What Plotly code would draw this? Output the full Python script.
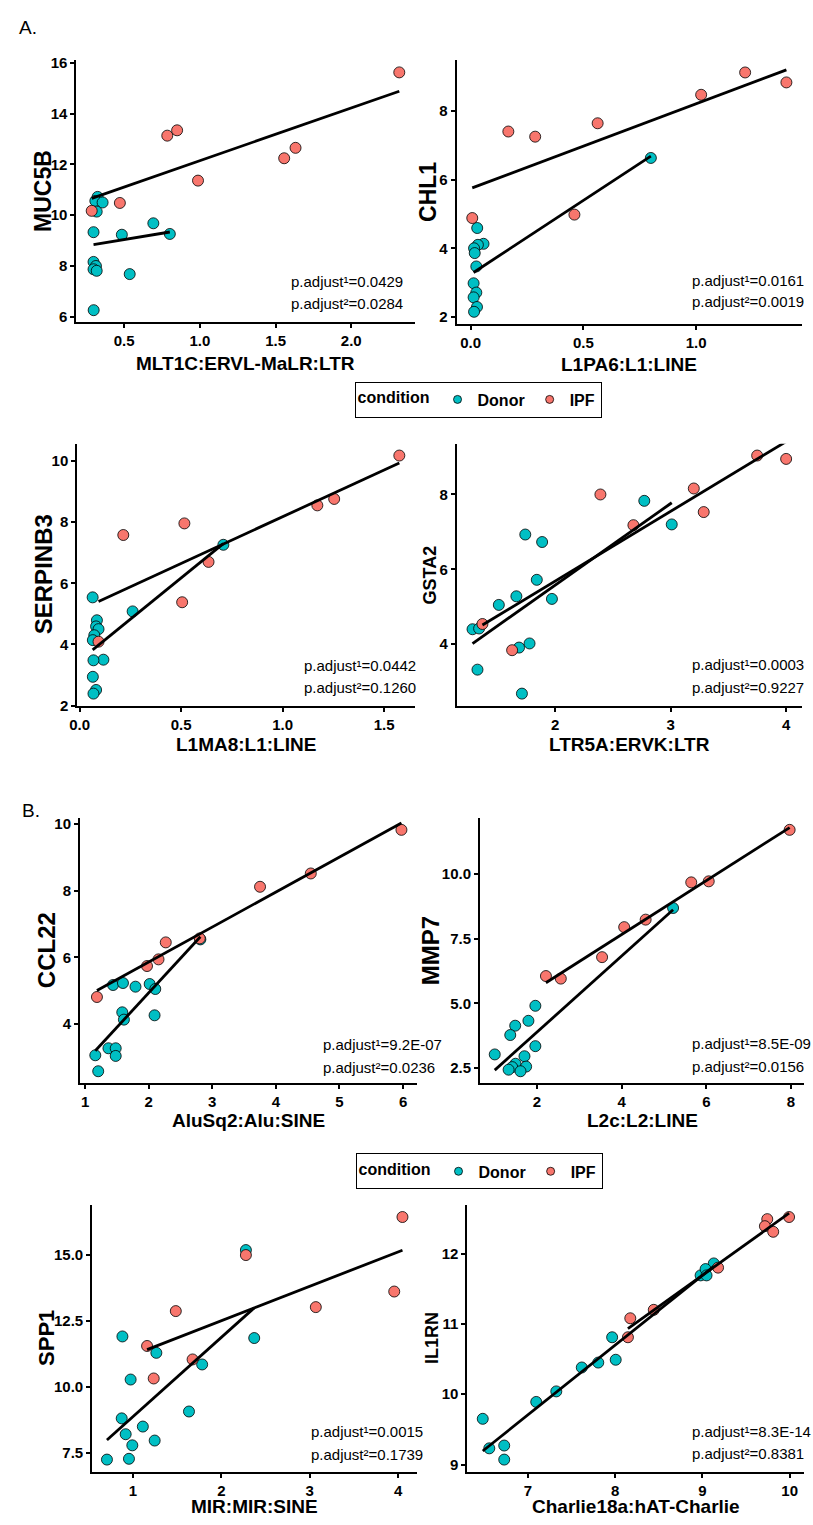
import numpy as np
import plotly.graph_objects as go

W, H = 813, 1525
SANS = "Liberation Sans, Arial, sans-serif"
DONOR_COL = "#00BFC4"
IPF_COL = "#F8766D"

# ---------------- data ----------------
muc5b_donor_x = [0.325, 0.31, 0.358, 0.319, 0.298, 0.693, 0.485, 0.802, 0.298, 0.314, 0.298, 0.319, 0.537, 0.299]
muc5b_donor_y = [10.72, 10.56, 10.50, 10.14, 9.33, 9.68, 9.23, 9.26, 8.16, 8.00, 7.87, 7.81, 7.68, 6.26]
muc5b_ipf_x = [2.317, 0.785, 0.85, 1.557, 1.632, 0.988, 0.472, 0.286]
muc5b_ipf_y = [15.62, 13.13, 13.34, 12.24, 12.65, 11.36, 10.48, 10.17]

chl1_donor_x = [0.799, 0.029, 0.057, 0.032, 0.015, 0.018, 0.025, 0.013, 0.025, 0.013, 0.028, 0.015]
chl1_donor_y = [6.63, 4.59, 4.13, 4.10, 4.00, 3.86, 3.47, 2.98, 2.71, 2.57, 2.29, 2.15]
chl1_ipf_x = [1.217, 1.40, 1.022, 0.563, 0.167, 0.286, 0.46, 0.007]
chl1_ipf_y = [9.12, 8.83, 8.47, 7.64, 7.40, 7.25, 4.98, 4.88]

serpinb3_donor_x = [0.708, 0.261, 0.064, 0.085, 0.081, 0.093, 0.072, 0.065, 0.117, 0.068, 0.065, 0.081, 0.068]
serpinb3_donor_y = [7.26, 5.08, 5.54, 4.79, 4.59, 4.50, 4.30, 4.14, 3.50, 3.48, 2.94, 2.51, 2.39]
serpinb3_ipf_x = [1.575, 1.254, 1.171, 0.516, 0.215, 0.635, 0.505, 0.093]
serpinb3_ipf_y = [10.18, 8.76, 8.55, 7.96, 7.58, 6.70, 5.38, 4.09]

gsta2_donor_x = [2.771, 3.009, 1.74, 1.886, 1.84, 1.663, 1.971, 1.511, 1.283, 1.34, 1.777, 1.686, 1.326, 1.711]
gsta2_donor_y = [7.83, 7.20, 6.93, 6.73, 5.72, 5.28, 5.21, 5.05, 4.40, 4.42, 4.02, 3.91, 3.32, 2.68]
gsta2_ipf_x = [3.749, 4.0, 3.2, 3.286, 2.391, 2.677, 1.369, 1.626]
gsta2_ipf_y = [9.04, 8.95, 8.16, 7.53, 8.00, 7.18, 4.54, 3.84]

ccl22_donor_x = [2.813, 1.44, 1.596, 1.793, 2.016, 2.104, 1.585, 1.611, 2.093, 1.368, 1.482, 1.482, 1.161, 1.207]
ccl22_donor_y = [6.54, 5.17, 5.23, 5.12, 5.20, 5.05, 4.35, 4.13, 4.26, 3.27, 3.27, 3.04, 3.06, 2.58]
ccl22_ipf_x = [5.974, 4.549, 3.751, 2.803, 2.269, 2.155, 1.974, 1.187]
ccl22_ipf_y = [9.83, 8.52, 8.12, 6.57, 6.45, 5.94, 5.74, 4.81]

mmp7_donor_x = [5.214, 1.961, 1.797, 1.485, 1.368, 1.961, 1.002, 1.704, 1.493, 1.415, 1.743, 1.329, 1.61]
mmp7_donor_y = [8.69, 4.91, 4.33, 4.14, 3.78, 3.35, 3.03, 2.96, 2.67, 2.54, 2.56, 2.44, 2.38]
mmp7_ipf_x = [7.967, 5.643, 6.056, 4.566, 4.059, 3.537, 2.211, 2.562]
mmp7_ipf_y = [11.71, 9.68, 9.72, 8.24, 7.95, 6.79, 6.06, 5.96]

spp1_donor_x = [2.278, 0.881, 2.372, 1.265, 1.783, 0.974, 1.634, 0.873, 1.112, 0.918, 1.246, 0.993, 0.955, 0.706]
spp1_donor_y = [15.18, 11.91, 11.85, 11.29, 10.85, 10.28, 9.07, 8.81, 8.50, 8.21, 7.97, 7.79, 7.28, 7.25]
spp1_ipf_x = [4.049, 2.278, 3.956, 3.069, 1.485, 1.16, 1.675, 1.235]
spp1_ipf_y = [16.43, 14.99, 13.61, 13.02, 12.87, 11.55, 11.04, 10.32]

il1rn_donor_x = [9.13, 8.979, 9.036, 9.047, 7.965, 8.006, 7.806, 7.617, 7.325, 7.095, 6.482, 6.557, 6.728, 6.728]
il1rn_donor_y = [11.86, 11.69, 11.78, 11.69, 10.81, 10.49, 10.45, 10.38, 10.04, 9.89, 9.65, 9.23, 9.27, 9.07]
il1rn_ipf_x = [9.993, 9.743, 9.716, 9.811, 9.179, 8.442, 8.173, 8.146]
il1rn_ipf_y = [12.52, 12.49, 12.39, 12.31, 11.80, 11.20, 11.08, 10.81]

x_titles = ["MLT1C:ERVL-MaLR:LTR", "L1PA6:L1:LINE", "L1MA8:L1:LINE", "LTR5A:ERVK:LTR",
            "AluSq2:Alu:SINE", "L2c:L2:LINE", "MIR:MIR:SINE", "Charlie18a:hAT-Charlie"]
y_titles = ["MUC5B", "CHL1", "SERPINB3", "GSTA2", "CCL22", "MMP7", "SPP1", "IL1RN"]
p_adjust_1 = ["0.0429", "0.0161", "0.0442", "0.0003", "9.2E-07", "8.5E-09", "0.0015", "8.3E-14"]
p_adjust_2 = ["0.0284", "0.0019", "0.1260", "0.9227", "0.0236", "0.0156", "0.1739", "0.8381"]

x_ticks = [[0.5, 1.0, 1.5, 2.0], [0.0, 0.5, 1.0], [0.0, 0.5, 1.0, 1.5], [2, 3, 4],
           [1, 2, 3, 4, 5, 6], [2, 4, 6, 8], [1, 2, 3, 4], [7, 8, 9, 10]]
x_tick_labels = [["0.5", "1.0", "1.5", "2.0"], ["0.0", "0.5", "1.0"], ["0.0", "0.5", "1.0", "1.5"],
                 ["2", "3", "4"], ["1", "2", "3", "4", "5", "6"], ["2", "4", "6", "8"],
                 ["1", "2", "3", "4"], ["7", "8", "9", "10"]]
y_ticks = [[6, 8, 10, 12, 14, 16], [2, 4, 6, 8], [2, 4, 6, 8, 10], [4, 6, 8],
           [4, 6, 8, 10], [2.5, 5.0, 7.5, 10.0], [7.5, 10.0, 12.5, 15.0], [9, 10, 11, 12]]
y_tick_labels = [["6", "8", "10", "12", "14", "16"], ["2", "4", "6", "8"], ["2", "4", "6", "8", "10"],
                 ["4", "6", "8"], ["4", "6", "8", "10"], ["2.5", "5.0", "7.5", "10.0"],
                 ["7.5", "10.0", "12.5", "15.0"], ["9", "10", "11", "12"]]

groups = [
    (muc5b_donor_x, muc5b_donor_y, muc5b_ipf_x, muc5b_ipf_y),
    (chl1_donor_x, chl1_donor_y, chl1_ipf_x, chl1_ipf_y),
    (serpinb3_donor_x, serpinb3_donor_y, serpinb3_ipf_x, serpinb3_ipf_y),
    (gsta2_donor_x, gsta2_donor_y, gsta2_ipf_x, gsta2_ipf_y),
    (ccl22_donor_x, ccl22_donor_y, ccl22_ipf_x, ccl22_ipf_y),
    (mmp7_donor_x, mmp7_donor_y, mmp7_ipf_x, mmp7_ipf_y),
    (spp1_donor_x, spp1_donor_y, spp1_ipf_x, spp1_ipf_y),
    (il1rn_donor_x, il1rn_donor_y, il1rn_ipf_x, il1rn_ipf_y),
]

# ---------------- layout geometry (pixels) ----------------
# left, right, top, bottom of panel; y-title centre x; x-title centre y; y-title size;
# p-annotation left x, line1 y, line2 y
geom = [
    (69, 410.7, 55, 319, 36, 361, 23, 284, 278, 300),
    (453, 802, 55, 320.7, 424, 362, 23, 689, 276.7, 298.3),
    (70, 410.7, 441.7, 706, 36, 745, 24, 296.5, 666, 688.3),
    (453.3, 801.7, 441.7, 706, 426, 745, 18, 689, 665, 688.3),
    (72.7, 412.8, 819.3, 1087.3, 39, 1125, 24, 316.5, 1048.3, 1071),
    (476.7, 804.3, 819.3, 1087.3, 427, 1125, 24, 689, 1047.3, 1070),
    (85, 413.3, 1210, 1479.3, 39, 1514, 22, 304, 1439, 1461.7),
    (464, 804.3, 1210, 1479.3, 429, 1514, 18, 689, 1438.3, 1461),
]


def px_x(v):
    return v / W


def px_y(v):
    return 1 - v / H


def expand(vals, frac=0.05):
    lo, hi = min(vals), max(vals)
    d = (hi - lo) * frac
    return [lo - d, hi + d]


fig = go.Figure()
annotations = []
layout = {}

for i, (dx, dy, ix, iy) in enumerate(groups):
    n = "" if i == 0 else str(i + 1)
    xname, yname = "x" + n, "y" + n
    L, R, T, B, ytx, xty, ysz, al, a1, a2 = geom[i]

    tick_font = dict(family=SANS, size=15, color="black", weight="bold")
    layout["xaxis" + n] = dict(
        domain=[px_x(L), px_x(R)], range=expand(dx + ix), anchor=yname,
        tickvals=x_ticks[i], ticktext=x_tick_labels[i],
        showline=True, linecolor="black", linewidth=2, mirror=False,
        ticks="outside", ticklen=4, tickwidth=1.5, tickcolor="black",
        showgrid=False, zeroline=False, tickfont=tick_font,
    )
    layout["yaxis" + n] = dict(
        domain=[px_y(B), px_y(T)], range=expand(dy + iy), anchor=xname,
        tickvals=y_ticks[i], ticktext=y_tick_labels[i],
        showline=True, linecolor="black", linewidth=2,
        ticks="outside", ticklen=4, tickwidth=1.5, tickcolor="black",
        showgrid=False, zeroline=False, tickfont=tick_font,
    )

    # points
    for gx, gy, col in ((dx, dy, DONOR_COL), (ix, iy, IPF_COL)):
        fig.add_trace(go.Scatter(
            x=gx, y=gy, mode="markers", xaxis=xname, yaxis=yname, showlegend=False,
            marker=dict(size=11, color=col, line=dict(color="black", width=0.8)),
            hoverinfo="x+y",
        ))
    # linear fits (per group, over the group's x range)
    for gx, gy in ((dx, dy), (ix, iy)):
        coef = np.polyfit(gx, gy, 1)
        xs = np.array([min(gx), max(gx)])
        fig.add_trace(go.Scatter(
            x=xs, y=np.polyval(coef, xs), mode="lines", xaxis=xname, yaxis=yname,
            showlegend=False, line=dict(color="black", width=2.8), hoverinfo="skip",
        ))

    # axis titles
    annotations.append(dict(
        text=x_titles[i], x=px_x((L + R) / 2), y=px_y(xty), xref="paper", yref="paper",
        showarrow=False, xanchor="center", yanchor="middle",
        font=dict(family=SANS, size=19, color="black", weight="bold"),
    ))
    annotations.append(dict(
        text=y_titles[i], x=px_x(ytx), y=px_y((T + B) / 2), xref="paper", yref="paper",
        showarrow=False, xanchor="center", yanchor="middle", textangle=-90,
        font=dict(family=SANS, size=ysz, color="black", weight="bold"),
    ))
    # p.adjust text
    for txt, yy in (("p.adjust\u00b9=" + p_adjust_1[i], a1), ("p.adjust\u00b2=" + p_adjust_2[i], a2)):
        annotations.append(dict(
            text=txt, x=px_x(al), y=px_y(yy), xref="paper", yref="paper",
            showarrow=False, xanchor="left", yanchor="middle",
            font=dict(family=SANS, size=15, color="black"),
        ))

# legend-only entries
for leg in ("legend", "legend2"):
    for name, col in (("Donor", DONOR_COL), ("IPF", IPF_COL)):
        fig.add_trace(go.Scatter(
            x=[None], y=[None], mode="markers", name=name, legend=leg, showlegend=True,
            marker=dict(size=8, color=col, line=dict(color="black", width=0.8)),
        ))

annotations.append(dict(text="A.", x=px_x(9), y=px_y(22), xref="paper", yref="paper",
                        showarrow=False, xanchor="left", yanchor="middle",
                        font=dict(family=SANS, size=19, color="black")))
annotations.append(dict(text="B.", x=px_x(12), y=px_y(812), xref="paper", yref="paper",
                        showarrow=False, xanchor="left", yanchor="middle",
                        font=dict(family=SANS, size=19, color="black")))

legend_style = dict(
    orientation="h", xanchor="left", yanchor="top",
    bordercolor="black", borderwidth=1, bgcolor="white",
    font=dict(family=SANS, size=16, color="black", weight="bold"),
    title=dict(text="condition", font=dict(family=SANS, size=16, color="black", weight="bold")),
    itemwidth=30, itemclick=False, itemdoubleclick=False,
)

fig.update_layout(
    width=W, height=H, autosize=False,
    margin=dict(l=0, r=0, t=0, b=0),
    paper_bgcolor="white", plot_bgcolor="white",
    annotations=annotations,
    legend=dict(legend_style, x=px_x(350), y=px_y(379)),
    legend2=dict(legend_style, x=px_x(351), y=px_y(1158)),
    **layout,
)

fig.write_html(
    "out.html",
    config={"displayModeBar": False},
    post_script="document.body.style.margin='0px';document.body.style.padding='0px';",
)
